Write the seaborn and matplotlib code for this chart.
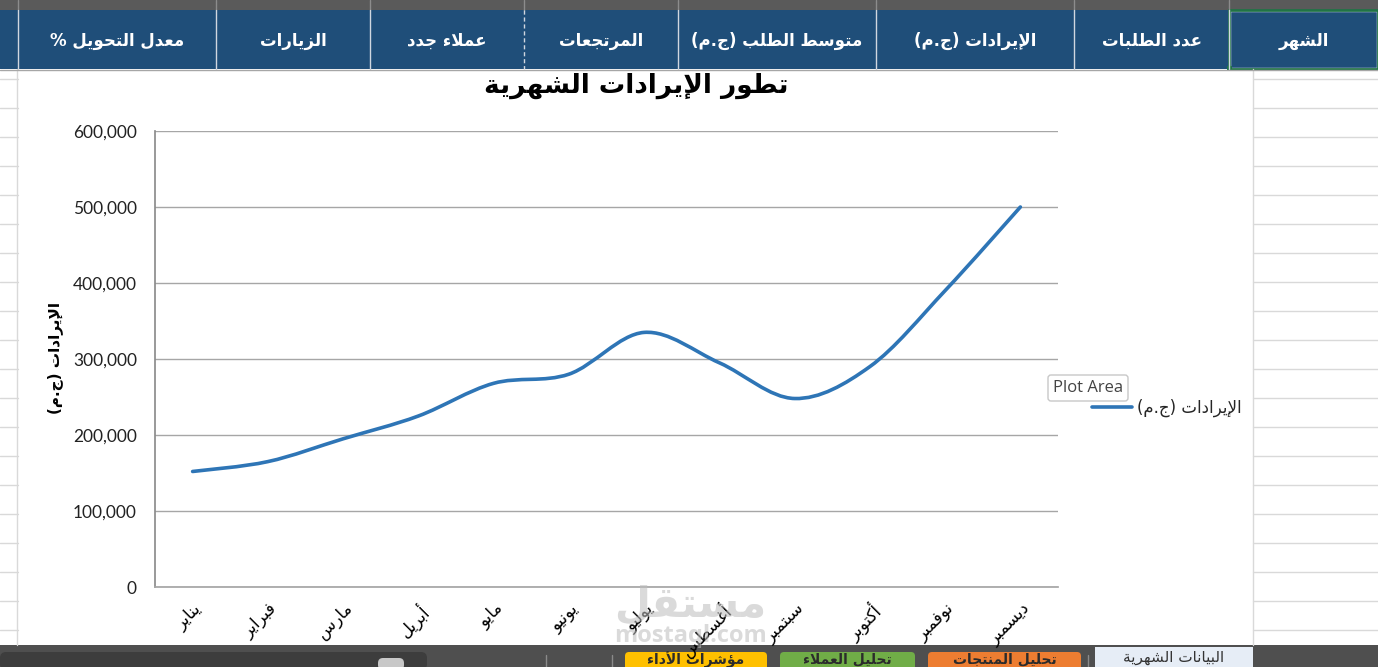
import matplotlib.pyplot as plt
import seaborn as sns
import numpy as np
from matplotlib.patches import Rectangle, FancyBboxPatch, PathPatch
from matplotlib.path import Path
from matplotlib.lines import Line2D
from matplotlib.ticker import FuncFormatter

# البيانات
months = ['يناير', 'فبراير', 'مارس', 'أبريل', 'مايو', 'يونيو',
          'يوليو', 'أغسطس', 'سبتمبر', 'أكتوبر', 'نوفمبر', 'ديسمبر']
revenue = [152000, 165000, 195000, 225000, 268000, 280000,
           335000, 295000, 248000, 290000, 390000, 500000]
y_ticks = [0, 100000, 200000, 300000, 400000, 500000, 600000]
headers = ['معدل التحويل %', 'الزيارات', 'عملاء جدد', 'المرتجعات',
           'متوسط الطلب (ج.م)', 'الإيرادات (ج.م)', 'عدد الطلبات', 'الشهر']
col_edges = [18, 216, 370, 524, 678, 876, 1074, 1229, 1378]
tabs = ['مؤشرات الأداء', 'تحليل العملاء', 'تحليل المنتجات']
title = 'تطور الإيرادات الشهرية'
series_name = 'الإيرادات (ج.م)'
active_tab = 'البيانات الشهرية'

# تشكيل الحروف العربية (matplotlib لا يقوم بذلك)
FORMS = {'ء': (0xFE80, 1), 'آ': (0xFE81, 2), 'أ': (0xFE83, 2), 'ؤ': (0xFE85, 2),
         'إ': (0xFE87, 2), 'ئ': (0xFE89, 4), 'ا': (0xFE8D, 2), 'ب': (0xFE8F, 4),
         'ة': (0xFE93, 2), 'ت': (0xFE95, 4), 'ث': (0xFE99, 4), 'ج': (0xFE9D, 4),
         'ح': (0xFEA1, 4), 'خ': (0xFEA5, 4), 'د': (0xFEA9, 2), 'ذ': (0xFEAB, 2),
         'ر': (0xFEAD, 2), 'ز': (0xFEAF, 2), 'س': (0xFEB1, 4), 'ش': (0xFEB5, 4),
         'ص': (0xFEB9, 4), 'ض': (0xFEBD, 4), 'ط': (0xFEC1, 4), 'ظ': (0xFEC5, 4),
         'ع': (0xFEC9, 4), 'غ': (0xFECD, 4), 'ف': (0xFED1, 4), 'ق': (0xFED5, 4),
         'ك': (0xFED9, 4), 'ل': (0xFEDD, 4), 'م': (0xFEE1, 4), 'ن': (0xFEE5, 4),
         'ه': (0xFEE9, 4), 'و': (0xFEED, 2), 'ى': (0xFEEF, 2), 'ي': (0xFEF1, 4)}
LAM_ALEF = {'آ': 0xFEF5, 'أ': 0xFEF7, 'إ': 0xFEF9, 'ا': 0xFEFB}


def ar(text):
    toks = []
    i = 0
    while i < len(text):
        if text[i] == 'ل' and i + 1 < len(text) and text[i + 1] in LAM_ALEF:
            toks.append(('LA', text[i + 1]))
            i += 2
        else:
            toks.append(('C', text[i]))
            i += 1

    def letter(t):
        return t is not None and (t[0] == 'LA' or t[1] in FORMS)

    def joins_next(t):
        return t is not None and t[0] == 'C' and t[1] in FORMS and FORMS[t[1]][1] == 4

    def joins_prev(t):
        return letter(t) and not (t[0] == 'C' and FORMS[t[1]][1] == 1)

    out = []
    for k, t in enumerate(toks):
        prev = toks[k - 1] if k > 0 else None
        nxt = toks[k + 1] if k + 1 < len(toks) else None
        if not letter(t):
            out.append(t[1])
            continue
        cp = joins_next(prev) and joins_prev(t)
        cn = joins_next(t) and joins_prev(nxt)
        if t[0] == 'LA':
            out.append(chr(LAM_ALEF[t[1]] + (1 if cp else 0)))
            continue
        start, n = FORMS[t[1]]
        if n == 1:
            idx = 0
        elif n == 2:
            idx = 1 if cp else 0
        else:
            idx = 3 if (cp and cn) else 1 if cp else 2 if cn else 0
        out.append(chr(start + idx))
    s = ''.join(out)[::-1]
    return s.translate(str.maketrans('()', ')('))


sns.set_theme(style='white')
plt.rcParams['font.family'] = ['Lato', 'DejaVu Sans']
AR = ['DejaVu Sans']

W, H = 1378, 667
fig = plt.figure(figsize=(W / 100, H / 100), dpi=100)
fig.patch.set_facecolor('white')

# خلفية ورقة Excel
bg = fig.add_axes([0, 0, 1, 1])
bg.set_xlim(0, W)
bg.set_ylim(H, 0)
bg.axis('off')


def rect(x0, y0, x1, y1, color, **kw):
    bg.add_patch(Rectangle((x0, y0), x1 - x0, y1 - y0, facecolor=color,
                           edgecolor=kw.pop('ec', 'none'), **kw))


for y in range(79, 646, 29):
    bg.plot([0, 18], [y, y], color='#d9d9d9', lw=1)
    bg.plot([1253, W], [y, y], color='#d9d9d9', lw=1)
bg.plot([17, 17], [69, 645], color='#d9d9d9', lw=1)
bg.plot([1253, 1253], [69, 645], color='#d9d9d9', lw=1)

# صف أسماء الأعمدة وصف العناوين
rect(0, 0, W, 10, '#5a5a5a')
rect(0, 10, W, 69, '#1f4e79')
for x in col_edges[:-1]:
    bg.plot([x, x], [0, 10], color='#8c8c8c', lw=1)
    bg.plot([x, x], [10, 69], color='#d0d7e0', lw=1,
            ls=(0, (3, 2)) if x == 524 else '-')
bg.plot([0, W], [69.5, 69.5], color='#a6a6a6', lw=1)
for j, h in enumerate(headers):
    cx = (col_edges[j] + col_edges[j + 1]) / 2
    bg.text(cx, 41, ar(h), ha='center', va='center', color='white',
            fontsize=12, fontweight='bold', family=AR)
rect(1229.5, 11, 1377, 68, 'none', ec='white', lw=1)
rect(1228.5, 10, 1378, 68.5, 'none', ec='#217346', lw=2)
rect(1227, 66, 1232, 71, '#217346')

# منطقة الرسم
rect(18, 70, 1253, 645, 'white')
bg.text(636, 86, ar(title), ha='center', va='center', fontsize=19,
        fontweight='bold', family=AR, color='black')
bg.text(55, 358, ar(series_name), ha='center', va='center', rotation=90,
        fontsize=11, fontweight='bold', family=AR, color='black')

ax = fig.add_axes([155 / W, (H - 587) / H, (1058 - 155) / W, (587 - 131) / H])
ax.set_facecolor('none')
x = np.arange(len(months))
y = np.array(revenue, dtype=float)

# خط منحني مثل Excel (منحنيات بيزييه بين نقاط البيانات)
pts = np.column_stack([x, y])
ext = np.vstack([pts[0], pts, pts[-1]])
verts = [pts[0]]
codes = [Path.MOVETO]
for i in range(len(pts) - 1):
    p0, p1, p2, p3 = ext[i], ext[i + 1], ext[i + 2], ext[i + 3]
    verts += [p1 + (p2 - p0) / 6, p2 - (p3 - p1) / 6, p2]
    codes += [Path.CURVE4] * 3
ax.add_patch(PathPatch(Path(verts, codes), facecolor='none', edgecolor='#2e75b6',
                       lw=2.6, capstyle='round', joinstyle='round', zorder=3))

ax.set_xlim(-0.5, len(months) - 0.5)
ax.set_ylim(0, 600000)
ax.set_yticks(y_ticks)
ax.yaxis.set_major_formatter(FuncFormatter(lambda v, p: f'{v:,.0f}'))
ax.set_xticks(x)
ax.set_xticklabels([ar(m) for m in months], rotation=45, ha='right',
                   va='top', rotation_mode='anchor', family=AR, fontsize=12,
                   color='black')
ax.tick_params(axis='y', length=0, pad=13, labelsize=12.5, colors='#222222')
ax.tick_params(axis='x', length=0, pad=9)
ax.yaxis.grid(True, color='#a6a6a6', lw=1)
ax.set_axisbelow(True)
for side in ['top', 'right']:
    ax.spines[side].set_visible(False)
ax.spines['left'].set_color('#8c8c8c')
ax.spines['bottom'].set_color('#a6a6a6')

fig.legend(handles=[Line2D([0], [0], color='#2e75b6', lw=2.6)],
           labels=[ar(series_name)], loc='center left',
           bbox_to_anchor=(1084 / W, 1 - 408 / H), frameon=False,
           handlelength=2.4, handletextpad=0.3, borderpad=0,
           prop={'family': AR, 'size': 12})

# تلميح Plot Area
bg.add_patch(FancyBboxPatch((1048, 375), 80, 26, boxstyle='round,pad=0,rounding_size=3',
                            facecolor='white', edgecolor='#c8c8c8', lw=1, zorder=5))
bg.text(1088, 388, 'Plot Area', ha='center', va='center', fontsize=12,
        color='#444444', family=['Open Sans'], zorder=6)

# شريط الأوراق في الأسفل
rect(0, 645, W, H, '#4f4f4f')
bg.add_patch(FancyBboxPatch((0, 652), 427, 18, boxstyle='round,pad=0,rounding_size=6',
                            facecolor='#3d3d3d', edgecolor='none'))
bg.add_patch(FancyBboxPatch((378, 658), 26, 12, boxstyle='round,pad=0,rounding_size=5',
                            facecolor='#c8c8c8', edgecolor='none'))
for sx in [546, 612, 1088]:
    bg.plot([sx, sx], [655, H], color='#8a8a8a', lw=1)
tab_spans = [(625, 767, '#ffc000'), (780, 915, '#70ad47'), (928, 1081, '#ed7d31')]
for (x0, x1, c), t in zip(tab_spans, tabs):
    bg.add_patch(FancyBboxPatch((x0, 652), x1 - x0, 20, boxstyle='round,pad=0,rounding_size=4',
                                facecolor=c, edgecolor='none'))
    bg.text((x0 + x1) / 2, 659.5, ar(t), ha='center', va='center', fontsize=10,
            fontweight='bold', color='#2b2b2b', family=AR)
rect(1095, 647, 1253, H, '#e6edf6')
bg.text(1174, 657.5, ar(active_tab), ha='center', va='center', fontsize=11,
        color='#333333', family=AR)

# العلامة المائية
fig.text(690 / W, 1 - 604 / H, ar('مستقل'), ha='center', va='center',
         fontsize=30, fontweight='bold', color='#bdbdbd', alpha=0.55, family=AR)
fig.text(690 / W, 1 - 636 / H, 'mostaql.com', ha='center', va='center',
         fontsize=17, fontweight='bold', color='#bdbdbd', alpha=0.55, family=['Open Sans'])

fig.savefig('out.png', dpi=100)
